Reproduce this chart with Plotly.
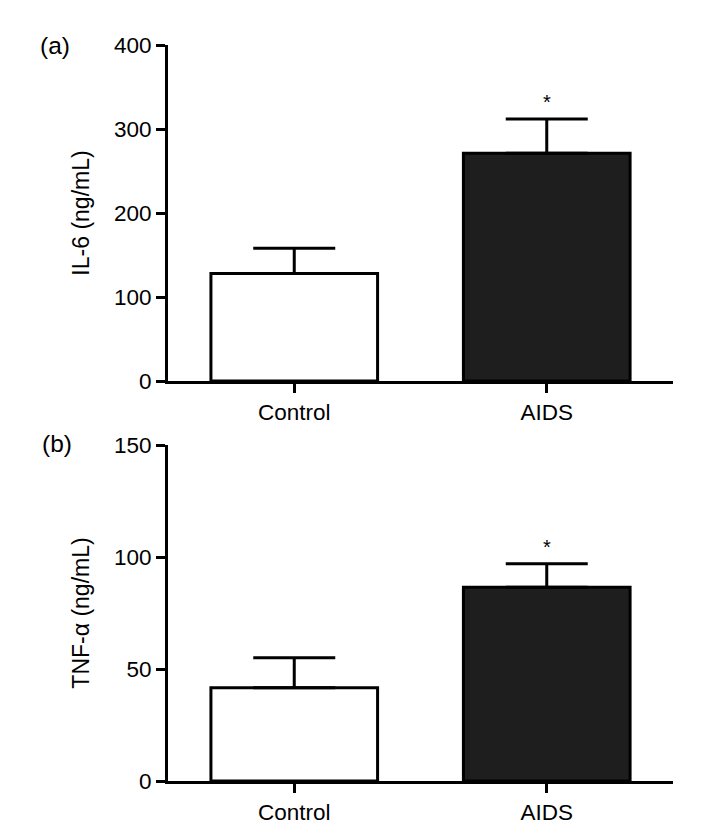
import plotly.graph_objects as go

categories = ["Control", "AIDS"]
il6_values = [128, 271]
il6_errors = [30, 41]
tnf_values = [41.6, 86.5]
tnf_errors = [13.4, 10.5]
bar_fills = ["#ffffff", "#1e1e1e"]
il6_ticks = [0, 100, 200, 300, 400]
tnf_ticks = [0, 50, 100, 150]
significance = ["", "*"]

FONT = "Arial, Liberation Sans, Helvetica, sans-serif"
OFF = 8  # default body margin of the page
W, H = 714 - 2 * OFF, 833 - 2 * OFF


def px_x(p):
    return (p - OFF) / W


def px_y(p):
    return 1 - (p - OFF) / H


fig = go.Figure()


def add_panel(values, errors, xa, ya):
    fig.add_trace(go.Bar(
        x=categories, y=values,
        width=0.66,
        marker=dict(color=bar_fills, line=dict(color="black", width=3)),
        error_y=dict(type="data", array=errors, arrayminus=[0] * len(errors),
                     symmetric=False, color="black", thickness=3, width=41),
        xaxis=xa, yaxis=ya, showlegend=False,
    ))
    for c, v, e, s in zip(categories, values, errors, significance):
        if s:
            fig.add_annotation(x=c, y=v + e, xref=xa, yref=ya, text=s,
                               showarrow=False, yanchor="bottom", yshift=4,
                               font=dict(size=20, color="black", family=FONT))


add_panel(il6_values, il6_errors, "x", "y")
add_panel(tnf_values, tnf_errors, "x2", "y2")

xdom = [px_x(168), px_x(673)]
axis_common = dict(showline=True, linecolor="black", linewidth=3,
                   ticks="outside", tickwidth=3, ticklen=9, tickcolor="black",
                   showgrid=False, zeroline=False, automargin=False,
                   tickfont=dict(size=22.5, color="black", family=FONT))
title_font = dict(size=23, color="black", family=FONT)

fig.update_layout(
    width=W, height=H,
    margin=dict(l=0, r=0, t=0, b=0),
    paper_bgcolor="white", plot_bgcolor="white",
    font=dict(family=FONT, color="black"),
    xaxis=dict(domain=xdom, anchor="y", range=[-0.5, 1.5], **axis_common),
    yaxis=dict(domain=[px_y(381), px_y(45)], anchor="x", range=[0, 400],
               tickvals=il6_ticks,
               title=dict(text="IL-6 (ng/mL)", standoff=18, font=title_font),
               **axis_common),
    xaxis2=dict(domain=xdom, anchor="y2", range=[-0.5, 1.5], **axis_common),
    yaxis2=dict(domain=[px_y(781), px_y(445)], anchor="x2", range=[0, 150],
                tickvals=tnf_ticks,
                title=dict(text="TNF-α (ng/mL)", standoff=18, font=title_font),
                **axis_common),
)

fig.add_annotation(x=px_x(38), y=px_y(46), xref="paper", yref="paper",
                   text="(a)", showarrow=False, xanchor="left", yanchor="middle",
                   font=dict(size=24.5, color="black", family=FONT))
fig.add_annotation(x=px_x(40), y=px_y(443), xref="paper", yref="paper",
                   text="(b)", showarrow=False, xanchor="left", yanchor="middle",
                   font=dict(size=24.5, color="black", family=FONT))

fig.write_html("out.html")
